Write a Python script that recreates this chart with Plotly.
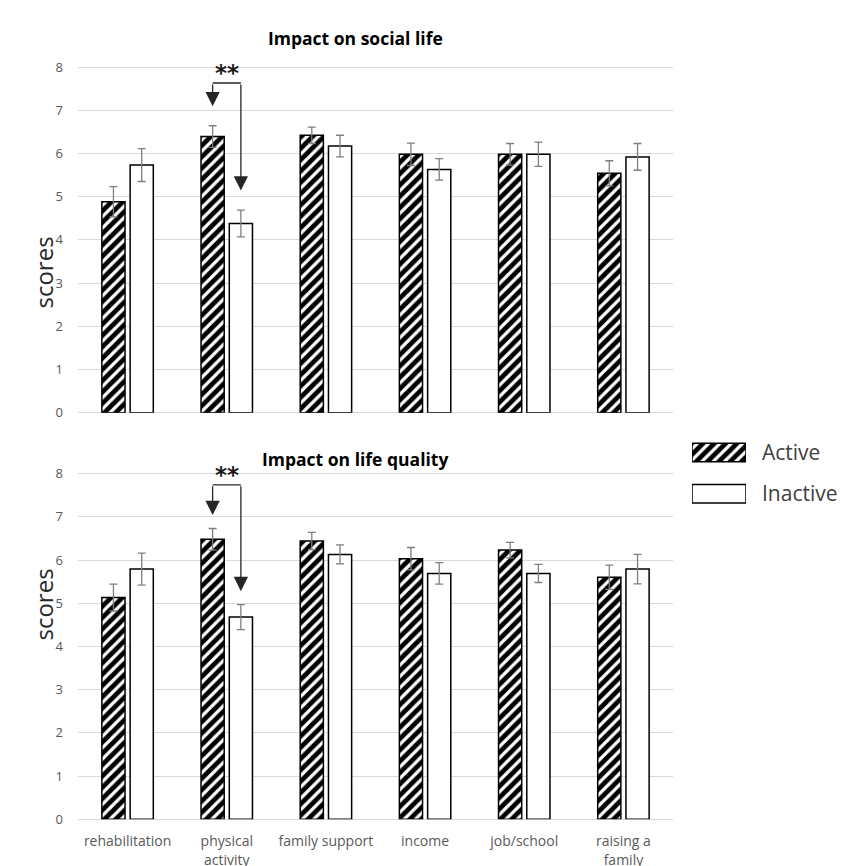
import plotly.graph_objects as go

categories = ["rehabilitation", "physical activity", "family support", "income", "job/school", "raising a family"]
tick_labels = ["rehabilitation", "physical<br>activity", "family support", "income", "job/school", "raising a<br>family"]

social_active = [4.88, 6.39, 6.42, 5.98, 5.98, 5.54]
social_active_err = [0.35, 0.25, 0.19, 0.26, 0.25, 0.29]
social_inactive = [5.73, 4.38, 6.17, 5.63, 5.98, 5.92]
social_inactive_err = [0.38, 0.31, 0.25, 0.25, 0.28, 0.31]

quality_active = [5.13, 6.48, 6.44, 6.03, 6.23, 5.60]
quality_active_err = [0.31, 0.25, 0.20, 0.26, 0.18, 0.28]
quality_inactive = [5.79, 4.68, 6.13, 5.69, 5.69, 5.79]
quality_inactive_err = [0.37, 0.29, 0.22, 0.25, 0.21, 0.34]

panel_titles = ["Impact on social life", "Impact on life quality"]
legend_names = ["Active", "Inactive"]
sig_category_index = 1
sig_label = "**"
sig_bracket_y = [7.63, 7.74]
sig_arrow_gap = [0.45, 0.31]

W, H = 845, 866
BARGAP, GROUPGAP = 0.43, 0.18
YMAX = 8.03

def px_x(p):
    return p / W

def px_y(p):
    return 1 - p / H

hatch = dict(shape="/", fgcolor="black", fgopacity=1, bgcolor="white", size=8, solidity=0.6)
line_black = dict(color="black", width=1.5)
err_style = dict(type="data", color="#7f7f7f", thickness=1.3, width=4, visible=True)

fig = go.Figure()
panels = [
    ("x", "y", social_active, social_active_err, social_inactive, social_inactive_err),
    ("x2", "y2", quality_active, quality_active_err, quality_inactive, quality_inactive_err),
]
for xa, ya, act, act_e, ina, ina_e in panels:
    fig.add_trace(go.Bar(x=categories, y=act, name="Active", xaxis=xa, yaxis=ya,
                         marker=dict(color="white", line=line_black, pattern=hatch),
                         error_y=dict(array=act_e, **err_style), showlegend=False))
    fig.add_trace(go.Bar(x=categories, y=ina, name="Inactive", xaxis=xa, yaxis=ya,
                         marker=dict(color="white", line=line_black),
                         error_y=dict(array=ina_e, **err_style), showlegend=False))

# legend swatches drawn as a tiny bar chart
fig.add_trace(go.Bar(y=legend_names, x=[1, 1], orientation="h", xaxis="x3", yaxis="y3",
                     width=0.45, showlegend=False, hoverinfo="skip",
                     marker=dict(color="white", line=dict(color="black", width=1.5),
                                 pattern=dict(shape=["/", ""], fgcolor="black", fgopacity=1,
                                              bgcolor="white", size=8, solidity=0.6))))

xdom = [px_x(78), px_x(673)]
pxu = (412.7 - 67) / 8.0
ydoms = [[px_y(412.7), px_y(412.7 - YMAX * pxu)], [px_y(819.3), px_y(819.3 - YMAX * pxu)]]
tickfont = dict(family="Open Sans", size=14, color="#595959")
yax = dict(range=[0, YMAX], tickvals=list(range(9)), showgrid=True, gridcolor="#d9d9d9", gridwidth=1.3,
           zeroline=True, zerolinecolor="#d9d9d9", zerolinewidth=1.3, showline=False,
           tickfont=dict(family="Open Sans", size=13, color="#595959"),
           ticks="", ticklabelstandoff=14, automargin=False)

fig.update_layout(
    width=W, height=H, margin=dict(l=0, r=0, t=0, b=0),
    paper_bgcolor="white", plot_bgcolor="white",
    barmode="group", bargap=BARGAP, bargroupgap=GROUPGAP,
    xaxis=dict(domain=xdom, anchor="y", showticklabels=False, showgrid=False, zeroline=False,
               ticks="", automargin=False),
    yaxis=dict(domain=ydoms[0], anchor="x", **yax),
    xaxis2=dict(domain=xdom, anchor="y2", showgrid=False, zeroline=False, ticks="",
                tickmode="array", tickvals=categories, ticktext=tick_labels,
                tickfont=tickfont, ticklabelstandoff=12, automargin=False),
    yaxis2=dict(domain=ydoms[1], anchor="x2", **yax),
    xaxis3=dict(domain=[px_x(692), px_x(746)], anchor="y3", range=[0, 1], visible=False,
                fixedrange=True, automargin=False),
    yaxis3=dict(domain=[px_y(514.45), px_y(431.85)], anchor="x3", range=[1.5, -0.5], side="right",
                showgrid=False, zeroline=False, showline=False, ticks="", ticklabelstandoff=15,
                automargin=False, fixedrange=True,
                tickfont=dict(family="Open Sans", size=21, color="#404040")),
    font=dict(family="Open Sans"),
)

# titles and axis labels
title_y = [24, 459]
score_y = [235, 643]
for i in range(2):
    fig.add_annotation(text="<b>" + panel_titles[i] + "</b>", xref="paper", yref="paper",
                       x=px_x(355), y=px_y(title_y[i]), showarrow=False,
                       font=dict(family="Open Sans", size=17.5, color="black"))
    fig.add_annotation(text="scores", xref="paper", yref="paper", x=px_x(24), y=px_y(score_y[i]),
                       textangle=-90, showarrow=False,
                       font=dict(family="Open Sans", size=24, color="#262626"))

# significance brackets
half = (1 - BARGAP) / 4
act_vals = [social_active, quality_active]
act_errs = [social_active_err, quality_active_err]
ina_vals = [social_inactive, quality_inactive]
ina_errs = [social_inactive_err, quality_inactive_err]
axes = [("x", "y"), ("x2", "y2")]
k = sig_category_index
for i, (xa, ya) in enumerate(axes):
    xl, xr = k - half, k + half
    yb = sig_bracket_y[i]
    fig.add_shape(type="line", xref=xa, yref=ya, x0=xl, x1=xr, y0=yb, y1=yb,
                  line=dict(color="#262626", width=1.3))
    tips = [(xl, act_vals[i][k] + act_errs[i][k] + sig_arrow_gap[i]),
            (xr, ina_vals[i][k] + ina_errs[i][k] + sig_arrow_gap[i])]
    for tx, ty in tips:
        fig.add_annotation(x=tx, y=ty, ax=tx, ay=yb, xref=xa, yref=ya, axref=xa, ayref=ya,
                           text="", showarrow=True, arrowhead=2, arrowsize=2.2, arrowwidth=1.3,
                           arrowcolor="#262626")
    fig.add_annotation(text="<b>" + sig_label + "</b>", x=k, y=yb, xref=xa, yref=ya,
                       yanchor="bottom", showarrow=False, yshift=-5,
                       font=dict(family="DejaVu Sans", size=23, color="#1a1a1a"))

fig.write_html("out.html", config={"displayModeBar": False},
               post_script="document.body.style.margin='0';document.body.style.overflow='hidden';")
